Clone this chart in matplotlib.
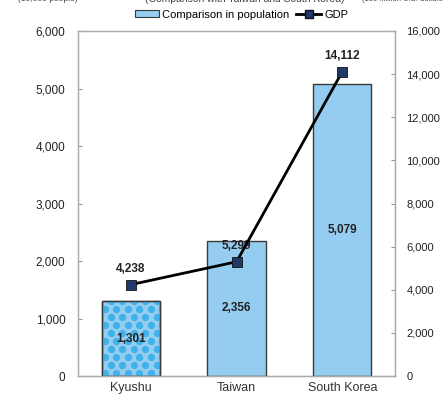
import numpy as np
import matplotlib
matplotlib.use("Agg")
import matplotlib.pyplot as plt
from matplotlib.patches import Rectangle
from matplotlib.lines import Line2D
from matplotlib.ticker import FuncFormatter, MultipleLocator

regions = ["Kyushu", "Taiwan", "South Korea"]
population = [1301, 2356, 5079]      # 10,000 people
gdp = [4238, 5299, 14112]            # 100 million U.S. dollars

plt.rcParams["font.family"] = ["Liberation Sans", "DejaVu Sans"]

BAR_FILL = "#94cdf0"
DOT_FILL = "#3fb2ea"
LINE_MARK = "#1f3a6b"

fig = plt.figure(figsize=(4.43, 4.01), dpi=100)
ax = fig.add_axes([0.176, 0.0623, 0.716, 0.8604])
ax2 = ax.twinx()

x = np.arange(len(regions))
bars = ax.bar(x, population, width=0.55, color=BAR_FILL, edgecolor="#3a3a3a",
              linewidth=1.0, zorder=2)

# polka-dot pattern for the Kyushu bar, clipped to the bar itself
ax.set_xlim(-0.5, 2.5)
ax.set_ylim(0, 6000)
fig.canvas.draw()
kb = bars[0]
x0, w = kb.get_x(), kb.get_width()
h = kb.get_height()
to_disp = ax.transData
(px0, py0) = to_disp.transform((x0, 0))
(px1, py1) = to_disp.transform((x0 + w, h))
dx, dy = 11.5, 8.0
pts = []
row = 0
yy = py0 + 3
while yy < py1 + dy:
    off = 0 if row % 2 == 0 else dx / 2
    xx = px0 - dx + off + 3
    while xx < px1 + dx:
        pts.append((xx, yy))
        xx += dx
    yy += dy
    row += 1
pts = to_disp.inverted().transform(np.array(pts))
dots = ax.scatter(pts[:, 0], pts[:, 1], s=28, color=DOT_FILL, linewidths=0, zorder=2.5)
dots.set_clip_path(kb)
ax.add_patch(Rectangle((x0, 0), w, h, fill=False, edgecolor="#3a3a3a", linewidth=1.0, zorder=3))

for xi, v in zip(x, population):
    ax.text(xi, v / 2, f"{v:,}", ha="center", va="center", fontsize=8.5,
            fontweight="bold", color="#222222", zorder=4)

ax2.plot(x, gdp, color="black", linewidth=2, marker="s", markersize=7,
         markerfacecolor=LINE_MARK, markeredgecolor="#111111", markeredgewidth=0.6, zorder=5)
ax2.set_ylim(0, 16000)
for xi, v in zip(x, gdp):
    ax2.annotate(f"{v:,}", (xi, v), xytext=(0, 7), textcoords="offset points",
                 ha="center", va="bottom", fontsize=8.5, fontweight="bold", color="#222222")

fmt = FuncFormatter(lambda v, p: f"{int(v):,}")
ax.yaxis.set_major_locator(MultipleLocator(1000))
ax.yaxis.set_major_formatter(fmt)
ax2.yaxis.set_major_locator(MultipleLocator(2000))
ax2.yaxis.set_major_formatter(fmt)

ax.set_xticks(x)
ax.set_xticklabels(regions, fontsize=9, color="#333333")
ax.tick_params(axis="x", length=0, pad=4)
ax.tick_params(axis="y", direction="in", length=3, color="#999999", labelsize=8.5,
               labelcolor="#222222", pad=9)
ax2.tick_params(axis="y", direction="in", length=3, color="#999999", labelsize=8,
                labelcolor="#222222", pad=8)

for a in (ax, ax2):
    for s in a.spines.values():
        s.set_color("#aaaaaa")
        s.set_linewidth(0.9)
ax.spines["bottom"].set_color("#888888")

# unit captions and subtitle along the top edge
fig.text(0.108, 1.002, "(10,000 people)", ha="center", va="center", fontsize=6, color="#444444")
fig.text(0.553, 1.002, "(Comparison with Taiwan and South Korea)", ha="center", va="center",
         fontsize=7.5, color="#444444")
fig.text(0.91, 1.002, "(100 million U.S. dollars)", ha="center", va="center", fontsize=5.5,
         color="#444444")

handles = [Rectangle((0, 0), 1, 1, facecolor=BAR_FILL, edgecolor="#3a3a3a", linewidth=0.8),
           Line2D([], [], color="black", linewidth=2, marker="s", markersize=6,
                  markerfacecolor=LINE_MARK, markeredgecolor="#111111")]
fig.legend(handles, ["Comparison in population", "GDP"], loc="center",
           bbox_to_anchor=(0.545, 0.963), ncol=2, frameon=False, fontsize=8,
           handlelength=2.2, handleheight=0.6, columnspacing=0.6, handletextpad=0.3)

fig.savefig("out.png", dpi=100)
